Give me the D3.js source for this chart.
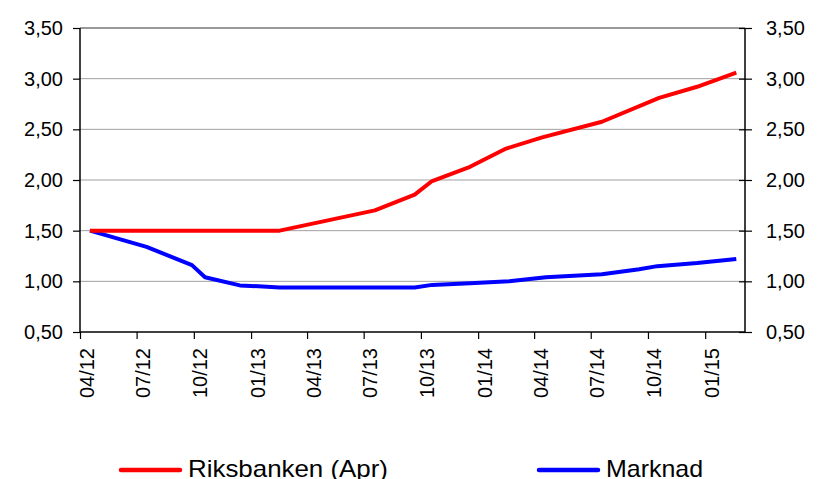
<!DOCTYPE html>
<html>
<head>
<meta charset="utf-8">
<script src="https://cdn.jsdelivr.net/npm/d3@7"></script>
<style>
  body { margin: 0; background: #fff; }
  text { font-family: "Liberation Sans", Arial, sans-serif; fill: #000; }
</style>
</head>
<body>
<div id="chart"></div>
<script>
// data
var riksDates = ["2012-04-17", "2013-02-16", "2013-07-19", "2013-09-21", "2013-10-19", "2013-12-19",
                 "2014-02-15", "2014-04-14", "2014-07-19", "2014-10-19", "2014-12-19", "2015-02-20"];
var riksValues = [1.50, 1.50, 1.70, 1.855, 1.99, 2.13, 2.31, 2.42, 2.575, 2.81, 2.92, 3.06];

var markDates = ["2012-04-17", "2012-07-17", "2012-09-28", "2012-10-19", "2012-12-14", "2013-02-16",
                 "2013-09-21", "2013-10-19", "2013-12-19", "2014-02-20", "2014-04-20", "2014-07-19",
                 "2014-09-17", "2014-10-16", "2014-12-19", "2015-02-20"];
var markValues = [1.50, 1.34, 1.16, 1.04, 0.96, 0.94, 0.94, 0.965, 0.98, 1.00, 1.04, 1.07,
                  1.12, 1.15, 1.18, 1.22];

var xTickLabels = ["04/12", "07/12", "10/12", "01/13", "04/13", "07/13", "10/13",
                   "01/14", "04/14", "07/14", "10/14", "01/15"];
var yTicks = [0.5, 1.0, 1.5, 2.0, 2.5, 3.0, 3.5];
var seriesNames = ["Riksbanken (Apr)", "Marknad"];

var width = 818, height = 479;
var plotLeft = 80, plotRight = 745, plotTop = 28, plotBottom = 332;

var parse = d3.timeParse("%Y-%m-%d");
var parseTick = d3.timeParse("%m/%y");

var svg = d3.select("#chart").append("svg").attr("width", width).attr("height", height);

var x = d3.scaleTime()
  .domain([parse("2012-04-01"), parse("2015-03-06")])
  .range([plotLeft, plotRight]);
var y = d3.scaleLinear().domain([0.5, 3.5]).range([plotBottom, plotTop]);

var fmt = function(d){ return d3.format(".2f")(d).replace(".", ","); };

// grid
svg.append("g").selectAll("line").data(yTicks.slice(1)).enter().append("line")
  .attr("x1", plotLeft).attr("x2", plotRight)
  .attr("y1", function(d){ return y(d); }).attr("y2", function(d){ return y(d); })
  .attr("stroke", function(d){ return d == 3.5 ? "#777" : "#a0a0a0"; })
  .attr("stroke-width", function(d){ return d == 3.5 ? 1.5 : 1; });

// left axis
var yl = svg.append("g").attr("transform", "translate(" + plotLeft + ",0)")
  .call(d3.axisLeft(y).tickValues(yTicks).tickFormat(fmt).tickSize(7).tickPadding(10));
// right axis
var yr = svg.append("g").attr("transform", "translate(" + plotRight + ",0)")
  .call(d3.axisRight(y).tickValues(yTicks).tickFormat(fmt).tickSize(7).tickPadding(14));
yr.selectAll(".tick line").attr("x1", -6);

// bottom axis
var xa = svg.append("g").attr("transform", "translate(0," + plotBottom + ")")
  .call(d3.axisBottom(x).tickValues(xTickLabels.map(parseTick)).tickFormat(d3.timeFormat("%m/%y")).tickSize(7));
xa.selectAll("text")
  .attr("transform", "rotate(-90)")
  .attr("text-anchor", "end")
  .attr("x", -16).attr("y", 6).attr("dy", "0.35em");

[yl, yr, xa].forEach(function(g){
  g.select(".domain").attr("stroke", "#000").attr("stroke-width", 1.5);
  g.selectAll(".tick line").attr("stroke", "#000").attr("stroke-width", 1.2);
  g.selectAll("text").style("font-size", "20px").style("font-family", "Liberation Sans, Arial, sans-serif");
});
yl.select(".domain").attr("d", "M0," + plotBottom + "V" + plotTop);
yr.select(".domain").attr("d", "M0," + plotBottom + "V" + plotTop);
xa.select(".domain").attr("d", "M" + plotLeft + ",0H" + plotRight);

var line = d3.line()
  .x(function(d){ return x(d.date); })
  .y(function(d){ return y(d.value); });

var riks = riksDates.map(function(d, i){ return { date: parse(d), value: riksValues[i] }; });
var mark = markDates.map(function(d, i){ return { date: parse(d), value: markValues[i] }; });

svg.append("path").datum(mark).attr("d", line)
  .attr("fill", "none").attr("stroke", "#0000ff").attr("stroke-width", 4).attr("stroke-linejoin", "round");
svg.append("path").datum(riks).attr("d", line)
  .attr("fill", "none").attr("stroke", "#ff0000").attr("stroke-width", 4).attr("stroke-linejoin", "round");

// legend
var legend = [
  { name: seriesNames[0], color: "#ff0000", x: 121, w: 200 },
  { name: seriesNames[1], color: "#0000ff", x: 539, w: 97 }
];
var lg = svg.append("g").selectAll("g").data(legend).enter().append("g")
  .attr("transform", function(d){ return "translate(" + d.x + ",470)"; });
lg.append("line").attr("x1", 0).attr("x2", 59).attr("y1", 0).attr("y2", 0)
  .attr("stroke", function(d){ return d.color; }).attr("stroke-width", 4.5).attr("stroke-linecap", "round");
lg.append("text").attr("x", 67).attr("y", 7)
  .style("font-size", "24px")
  .attr("textLength", function(d){ return d.w; })
  .attr("lengthAdjust", "spacingAndGlyphs")
  .text(function(d){ return d.name; });
</script>
</body>
</html>
